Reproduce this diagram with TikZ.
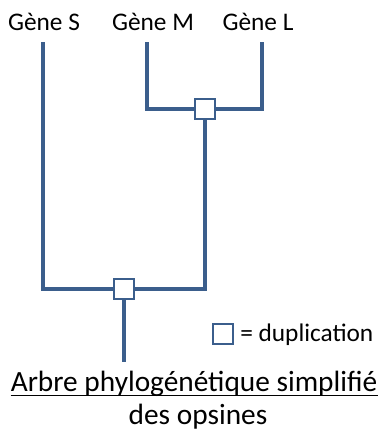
\documentclass[tikz,border=0pt]{standalone}
\usepackage{fontspec}
\setmainfont{Carlito}
\definecolor{treeblue}{RGB}{59,94,140}
\tikzset{
  branch/.style={draw=treeblue, line width=3pt},
  dupbox/.style={draw=treeblue, line width=2.2pt, fill=white, minimum size=15pt, inner sep=0pt},
  genelabel/.style={font=\fontsize{19pt}{21pt}\selectfont, inner sep=0pt, anchor=base},
  titletext/.style={font=\fontsize{22pt}{24pt}\selectfont, inner sep=0pt, anchor=base},
}
\begin{document}
\begin{tikzpicture}[x=0.75pt, y=-0.75pt]
\useasboundingbox (0,0) rectangle (379,432);
% labels
\node[genelabel] (gS) at (44,31) {Gène S};
\node[genelabel] (gM) at (153,31) {Gène M};
\node[genelabel] (gL) at (258,31) {Gène L};
% leaf tops
\coordinate (tS) at (43,42);
\coordinate (tM) at (147,42);
\coordinate (tL) at (262,42);
% branch points
\coordinate (cML) at (205,109);
\coordinate (cR) at (124,289);
\coordinate (bM) at (147,109);
\coordinate (bL) at (262,109);
\coordinate (bS) at (43,289);
\coordinate (bR) at (205,289);
\coordinate (root) at (124,362);
% branches
\draw[branch, line join=miter] (tM) -- (bM) -- (bL) -- (tL);
\draw[branch, line join=miter] (tS) -- (bS) -- (bR) -- (cML);
\draw[branch] (cR) -- (root);
\node[dupbox] (d1) at (cML) {};
\node[dupbox] (d2) at (cR) {};
% legend
\node[dupbox, minimum size=15pt, line width=1.6pt] (leg) at (223,334) {};
\node[genelabel, anchor=base west] (legt) at (240,341) {= duplication};
% title
\node[titletext] (title) at (194,391) {Arbre phylogénétique simplifié};
\coordinate (ul) at (0,395.5);
\draw[line width=1pt] (title.west |- ul) -- (title.east |- ul);
\node[titletext] (sub) at (198,424) {des opsines};
\end{tikzpicture}
\end{document}
